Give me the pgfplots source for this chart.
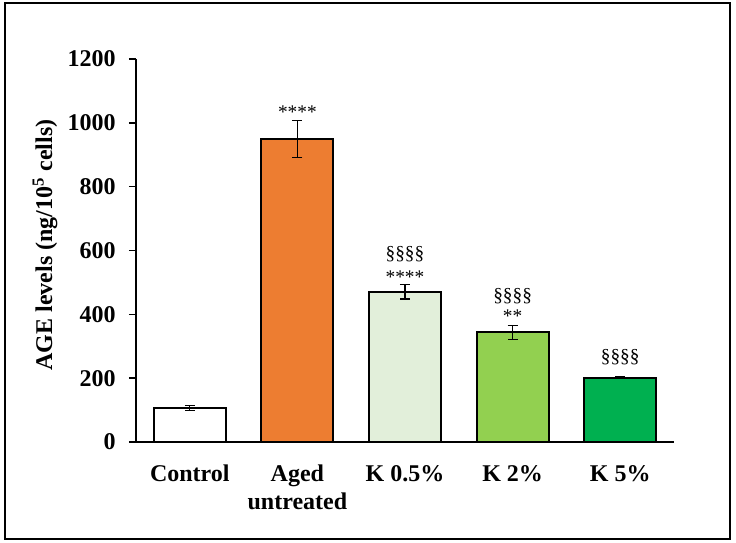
\documentclass[border=0pt]{standalone}
\usepackage{pgfplots}
\pgfplotsset{compat=1.18}
\usepackage{fontspec}
\setmainfont{Liberation Serif}
\definecolor{orng}{HTML}{ED7D31}
\definecolor{lgreen}{HTML}{E2EFDA}
\definecolor{mgreen}{HTML}{92D050}
\definecolor{dgreen}{HTML}{00B050}
\begin{document}
\begin{tikzpicture}
\path[use as bounding box] (0,0) rectangle (552pt,407.25pt);
\fill[white] (0,0) rectangle (552pt,407.25pt);
\draw[line width=1.5pt] (3.75pt,3pt) rectangle (547.5pt,405pt);
\begin{axis}[
  at={(102pt,75.75pt)}, anchor=south west,
  scale only axis, width=403.5pt, height=287.25pt,
  xmin=-0.5, xmax=4.5, ymin=0, ymax=1200,
  enlargelimits=false,
  axis x line*=bottom, axis y line*=left,
  axis line style={-, line width=1.5pt},
  every outer x axis line/.append style={-},
  every outer y axis line/.append style={-},
  x axis line style={shorten <=-5pt},
  ytick={0,200,400,600,800,1000,1200},
  tick align=outside, major tick length=5.25pt,
  ytick style={line width=1.2pt, black},
  xtick={0,1,2,3,4},
  xticklabels={Control,{Aged\\untreated},K 0.5\%,K 2\%,K 5\%},
  xtick style={draw=none},
  xticklabel style={align=center, font=\bfseries\fontsize{18}{21}\selectfont, yshift=-8.5pt},
  yticklabel style={font=\bfseries\fontsize{18}{21}\selectfont, xshift=-6.5pt},
  /pgf/number format/assume math mode=true,
  /pgf/number format/1000 sep={},
  ylabel={AGE levels (ng/10\textsuperscript{5} cells)},
  ylabel style={at={(axis description cs:-0.169,0.514)}, anchor=center, font=\bfseries\fontsize{18}{21}\selectfont},
  ybar, bar width=54pt, bar shift=0pt,
  clip=false,
  every axis plot/.append style={draw=black, line width=1.5pt},
  error bars/error bar style={line width=0.8pt, black},
  error bars/error mark options={line width=0.8pt, black, mark size=3.75pt, rotate=90},
]
\addplot[fill=white, error bars/.cd, y dir=both, y explicit] coordinates {(0,106.5) +- (0,8)};
\addplot[fill=orng, error bars/.cd, y dir=both, y explicit] coordinates {(1,949) +- (0,58)};
\addplot[fill=lgreen, error bars/.cd, y dir=both, y explicit] coordinates {(2,471) +- (0,23)};
\addplot[fill=mgreen, error bars/.cd, y dir=both, y explicit] coordinates {(3,344) +- (0,22)};
\addplot[fill=dgreen, error bars/.cd, y dir=both, y explicit] coordinates {(4,201.5) +- (0,4)};
\begin{scope}[every node/.style={font=\fontsize{14.5}{17}\selectfont, anchor=base, inner sep=0pt}]
\node at (axis cs:1,1013) {****};
\node at (axis cs:2,572) {§§§§};
\node at (axis cs:2,498) {****};
\node at (axis cs:3,441) {§§§§};
\node at (axis cs:3,373) {**};
\node at (axis cs:4,250) {§§§§};
\end{scope}
\end{axis}
\end{tikzpicture}
\end{document}
